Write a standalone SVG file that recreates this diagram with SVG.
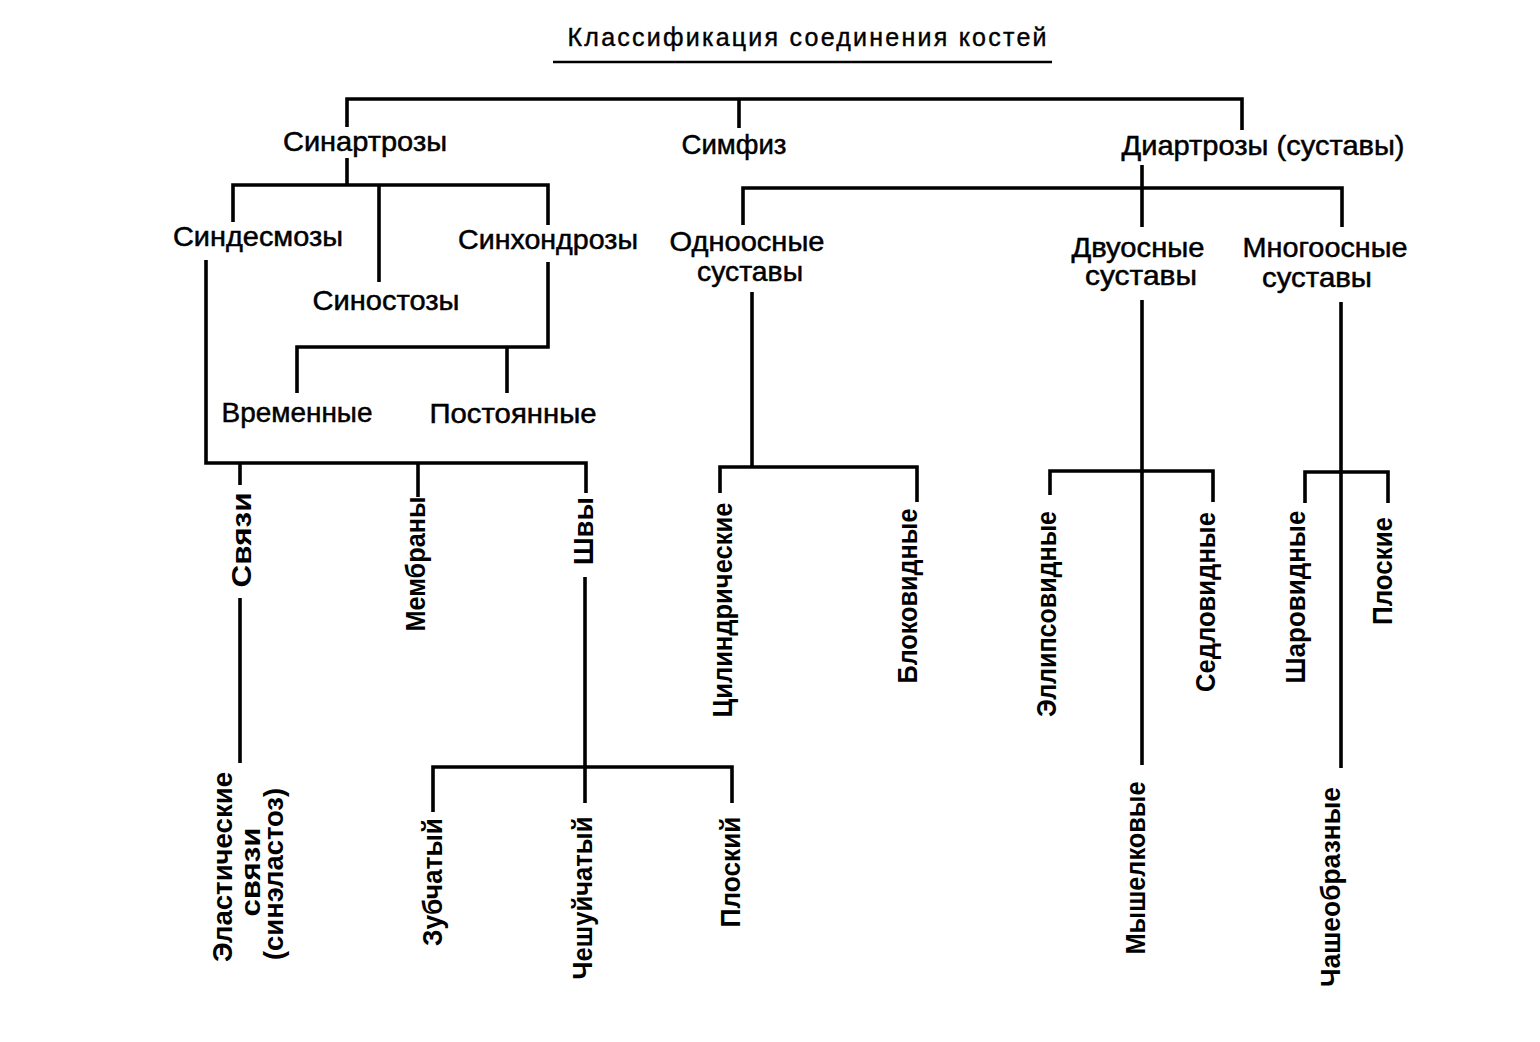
<svg xmlns="http://www.w3.org/2000/svg" width="1540" height="1042" viewBox="0 0 1540 1042">
<style>
.bg{fill:#fff}
.ln{fill:none;stroke:#000;stroke-width:3.6;stroke-linejoin:miter;stroke-linecap:butt}
.t{font-family:"Liberation Sans",Arial,sans-serif;font-size:28px;fill:#000;stroke:#000;stroke-width:0.5;text-anchor:middle}
.ttl{font-family:"Liberation Sans",Arial,sans-serif;font-size:25px;fill:#000;stroke:#000;stroke-width:0.4;text-anchor:middle}
.r{font-family:"Liberation Sans",Arial,sans-serif;font-size:28px;font-weight:bold;fill:#000;text-anchor:middle}
</style>
<rect class="bg" x="0" y="0" width="1540" height="1042"/>
<g id="title">
<text class="ttl" x="807" y="46" textLength="479" lengthAdjust="spacing">Классификация соединения костей</text>
<path d="M553 62 H1052" fill="none" stroke="#000" stroke-width="2.5"/>
</g>
<g id="connectors">
<path class="ln" d="M347 127 V99 H1242 V130"/>
<path class="ln" d="M739 99 V128"/>
<path class="ln" d="M347 158 V185"/>
<path class="ln" d="M233 222 V185 H548 V225"/>
<path class="ln" d="M379 185 V282"/>
<path class="ln" d="M206 260 V463 H586 V493"/>
<path class="ln" d="M240 463 V485"/>
<path class="ln" d="M418 463 V497"/>
<path class="ln" d="M240 598 V763"/>
<path class="ln" d="M585 577 V803"/>
<path class="ln" d="M433 812 V767 H732 V803"/>
<path class="ln" d="M548 262 V347 H297 V393"/>
<path class="ln" d="M507 347 V393"/>
<path class="ln" d="M1142 165 V227"/>
<path class="ln" d="M743 225 V188 H1342 V227"/>
<path class="ln" d="M752 292 V467"/>
<path class="ln" d="M720 493 V467 H917 V502"/>
<path class="ln" d="M1142 300 V765"/>
<path class="ln" d="M1050 495 V471 H1213 V502"/>
<path class="ln" d="M1341 302 V768"/>
<path class="ln" d="M1305 503 V472 H1388 V503"/>
</g>
<g id="n-sinartrozy"><text class="t" x="365" y="151" textLength="164" lengthAdjust="spacingAndGlyphs">Синартрозы</text></g>
<g id="n-simfiz"><text class="t" x="734" y="154" textLength="105" lengthAdjust="spacingAndGlyphs">Симфиз</text></g>
<g id="n-diartrozy"><text class="t" x="1263" y="155" textLength="283" lengthAdjust="spacingAndGlyphs">Диартрозы (суставы)</text></g>
<g id="n-sindesmozy"><text class="t" x="258" y="246" textLength="170" lengthAdjust="spacingAndGlyphs">Синдесмозы</text></g>
<g id="n-sinhondrozy"><text class="t" x="548" y="249" textLength="180" lengthAdjust="spacingAndGlyphs">Синхондрозы</text></g>
<g id="n-sinostozy"><text class="t" x="386" y="310" textLength="147" lengthAdjust="spacingAndGlyphs">Синостозы</text></g>
<g id="n-vremennye"><text class="t" x="297" y="422" textLength="151" lengthAdjust="spacingAndGlyphs">Временные</text></g>
<g id="n-postoyannye"><text class="t" x="513" y="423" textLength="167" lengthAdjust="spacingAndGlyphs">Постоянные</text></g>
<g id="n-odnoosnye">
<text class="t" x="747" y="251" textLength="155" lengthAdjust="spacingAndGlyphs">Одноосные</text>
<text class="t" x="750" y="281" textLength="106" lengthAdjust="spacingAndGlyphs">суставы</text>
</g>
<g id="n-dvuosnye">
<text class="t" x="1138" y="257" textLength="133" lengthAdjust="spacingAndGlyphs">Двуосные</text>
<text class="t" x="1141" y="285" textLength="112" lengthAdjust="spacingAndGlyphs">суставы</text>
</g>
<g id="n-mnogoosnye">
<text class="t" x="1325" y="257" textLength="165" lengthAdjust="spacingAndGlyphs">Многоосные</text>
<text class="t" x="1317" y="287" textLength="110" lengthAdjust="spacingAndGlyphs">суставы</text>
</g>
<g id="n-svyazi"><text class="r" transform="translate(251 540) rotate(-90)" textLength="95" lengthAdjust="spacingAndGlyphs">Связи</text></g>
<g id="n-membrany"><text class="r" transform="translate(425 564) rotate(-90)" textLength="135" lengthAdjust="spacingAndGlyphs">Мембраны</text></g>
<g id="n-shvy"><text class="r" transform="translate(593 531) rotate(-90)" textLength="68" lengthAdjust="spacingAndGlyphs">Швы</text></g>
<g id="n-elastic">
<text class="r" transform="translate(232 867) rotate(-90)" textLength="190" lengthAdjust="spacingAndGlyphs">Эластические</text>
<text class="r" transform="translate(260 872) rotate(-90)" textLength="89" lengthAdjust="spacingAndGlyphs">связи</text>
<text class="r" transform="translate(283 874) rotate(-90)" textLength="172" lengthAdjust="spacingAndGlyphs">(синэластоз)</text>
</g>
<g id="n-zubchatyi"><text class="r" transform="translate(442 882) rotate(-90)" textLength="128" lengthAdjust="spacingAndGlyphs">Зубчатый</text></g>
<g id="n-cheshuichatyi"><text class="r" transform="translate(592 898) rotate(-90)" textLength="163" lengthAdjust="spacingAndGlyphs">Чешуйчатый</text></g>
<g id="n-ploskii"><text class="r" transform="translate(740 872) rotate(-90)" textLength="111" lengthAdjust="spacingAndGlyphs">Плоский</text></g>
<g id="n-cilindr"><text class="r" transform="translate(732 610) rotate(-90)" textLength="215" lengthAdjust="spacingAndGlyphs">Цилиндрические</text></g>
<g id="n-blokovid"><text class="r" transform="translate(917 596) rotate(-90)" textLength="175" lengthAdjust="spacingAndGlyphs">Блоковидные</text></g>
<g id="n-ellips"><text class="r" transform="translate(1056 614) rotate(-90)" textLength="206" lengthAdjust="spacingAndGlyphs">Эллипсовидные</text></g>
<g id="n-sedlo"><text class="r" transform="translate(1215 602) rotate(-90)" textLength="180" lengthAdjust="spacingAndGlyphs">Седловидные</text></g>
<g id="n-myshelk"><text class="r" transform="translate(1145 868) rotate(-90)" textLength="173" lengthAdjust="spacingAndGlyphs">Мышелковые</text></g>
<g id="n-sharovid"><text class="r" transform="translate(1305 597) rotate(-90)" textLength="173" lengthAdjust="spacingAndGlyphs">Шаровидные</text></g>
<g id="n-ploskie"><text class="r" transform="translate(1392 571) rotate(-90)" textLength="108" lengthAdjust="spacingAndGlyphs">Плоские</text></g>
<g id="n-chasheobr"><text class="r" transform="translate(1340 887) rotate(-90)" textLength="200" lengthAdjust="spacingAndGlyphs">Чашеобразные</text></g>
</svg>
